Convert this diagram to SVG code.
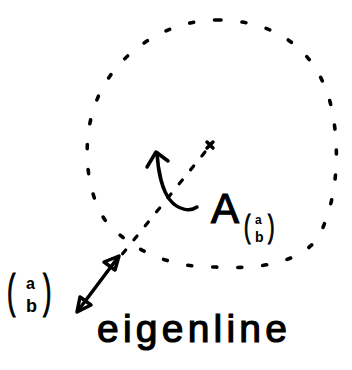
<svg xmlns="http://www.w3.org/2000/svg" width="352" height="370" viewBox="0 0 352 370">
<style>
.ink{fill:none;stroke:#000;stroke-width:3.5;stroke-linecap:round;stroke-linejoin:round}
.dash{fill:none;stroke:#000;stroke-width:3.6;stroke-linecap:round;stroke-dasharray:4 21}
.dash2{fill:none;stroke:#000;stroke-width:3.2;stroke-linecap:round;stroke-dasharray:5 13}
.t{font-family:"Liberation Sans",Arial,sans-serif;fill:#000;stroke:#000;stroke-width:1.2}
.s{font-family:"Liberation Sans",Arial,sans-serif;fill:#000;font-weight:bold}
</style>
<rect width="352" height="370" fill="#fff"/>
<g id="orbit">
<path class="dash" d="M217,20 C270,20 318,45 332,110 C340,150 338,200 318,238 C300,262 260,270 215,267 C170,268 130,250 105,220 C85,190 82,140 95,105 C110,60 160,20 217,20 Z"/>
</g>
<g id="center">
<path class="ink" stroke-width="2.5" d="M207,142 L213,148 M213,142 L207,148"/>
</g>
<g id="connectors">
<path class="dash2" d="M205,152 L120,257"/>
<path class="ink" stroke-width="4" d="M197,207 C190,212 178,210 170,200 C162,190 158,170 157,153"/>
<path class="ink" stroke-width="4" d="M147,167 L156,152 L168,161"/>
<path class="ink" d="M116,260 L80,308"/>
<path class="ink" fill="#000" stroke-width="2" d="M119,256 L104,262 L115,270 Z M77,312 L80,297 L91,305 Z"/>
</g>
<g id="labelA">
<text class="t" x="211" y="223" font-size="42">A</text>
<text class="t" x="244" y="237" font-size="32" transform="translate(244,0) scale(0.6,1) translate(-244,0)">(</text>
<text class="s" x="255" y="224" font-size="12">a</text>
<text class="s" x="255" y="242" font-size="14">b</text>
<text class="t" x="268" y="237" font-size="32" transform="translate(268,0) scale(0.6,1) translate(-268,0)">)</text>
</g>
<g id="vector">
<text class="t" x="7" y="307" font-size="46" transform="translate(7,0) scale(0.55,1) translate(-7,0)">(</text>
<text class="s" x="26" y="289" font-size="16">a</text>
<text class="s" x="26" y="312" font-size="18">b</text>
<text class="t" x="43" y="307" font-size="46" transform="translate(43,0) scale(0.55,1) translate(-43,0)">)</text>
</g>
<g id="eigenline">
<text class="t" x="97" y="342" font-size="39" textLength="190" lengthAdjust="spacing">eigenline</text>
</g>
</svg>
